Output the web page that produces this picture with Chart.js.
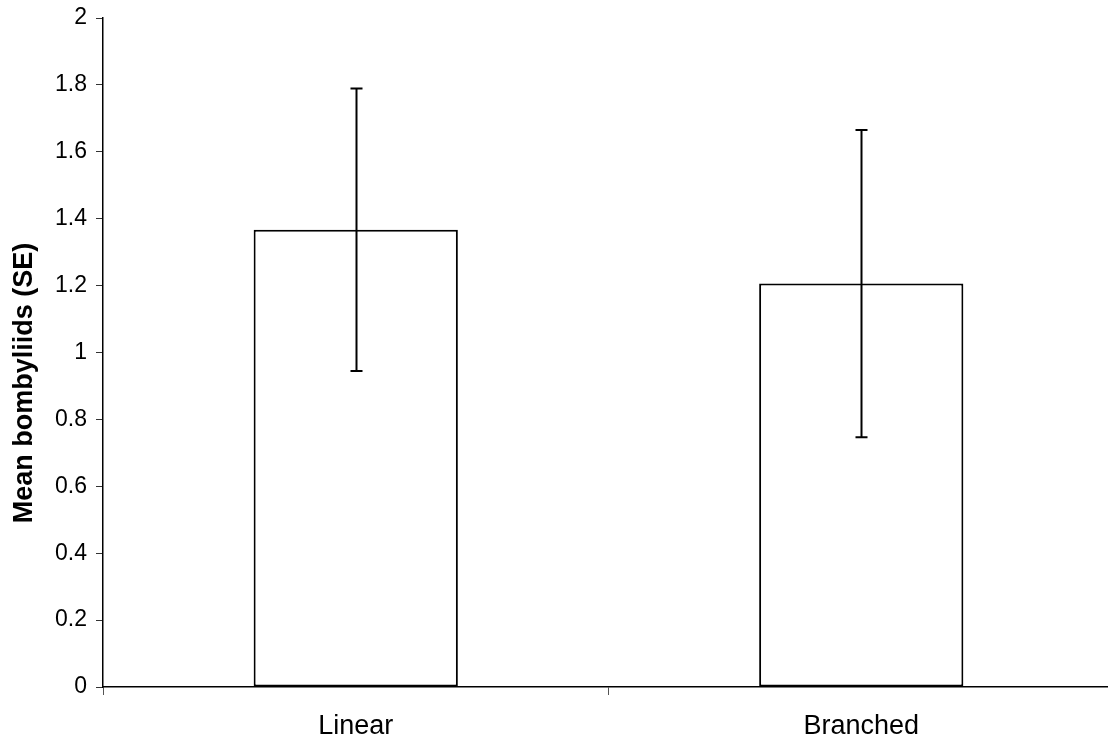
<!DOCTYPE html>
<html>
<head>
<meta charset="utf-8">
<script src="https://cdn.jsdelivr.net/npm/chart.js@4"></script>
<style>
    html, body { margin: 0; padding: 0; background: #fff; overflow: hidden; }
    #wrap { width: 1114px; height: 741px; }
</style>
</head>
<body>
<div id="wrap"><canvas id="chart" width="1114" height="741"></canvas></div>
<script>
// Data
const categories = ['Linear', 'Branched'];
const meanValues = [1.367, 1.206];
const seValues = [0.422, 0.459];
const yTicks = [0, 0.2, 0.4, 0.6, 0.8, 1, 1.2, 1.4, 1.6, 1.8, 2];
const yTitle = 'Mean bombyliids (SE)';

const FONT = 'Liberation Sans, Arial, sans-serif';

// Draws the SE whiskers from the data through the y scale
const errorBars = {
    id: 'errorBars',
    afterDatasetsDraw(chart) {
        const ctx = chart.ctx;
        const yScale = chart.scales.y;
        const meta = chart.getDatasetMeta(0);
        ctx.save();
        ctx.strokeStyle = '#000';
        ctx.lineWidth = 2;
        meta.data.forEach((bar, i) => {
            const x = Math.round(bar.x) + 0.5;
            const hi = yScale.getPixelForValue(meanValues[i] + seValues[i]);
            const lo = yScale.getPixelForValue(meanValues[i] - seValues[i]);
            ctx.beginPath();
            ctx.moveTo(x, hi);
            ctx.lineTo(x, lo);
            ctx.moveTo(x - 6, hi);
            ctx.lineTo(x + 6, hi);
            ctx.moveTo(x - 6, lo);
            ctx.lineTo(x + 6, lo);
            ctx.stroke();
        });
        ctx.restore();
    }
};

// y axis title, placed a bit below the axis middle like the original
const yTitlePlugin = {
    id: 'yTitle',
    afterDraw(chart) {
        const ctx = chart.ctx;
        ctx.save();
        ctx.translate(25, 383);
        ctx.rotate(-Math.PI / 2);
        ctx.font = 'bold 27px ' + FONT;
        ctx.fillStyle = '#000';
        ctx.textAlign = 'center';
        ctx.textBaseline = 'middle';
        ctx.fillText(yTitle, 0, 0);
        ctx.restore();
    }
};

new Chart(document.getElementById('chart').getContext('2d'), {
    type: 'bar',
    data: {
        labels: categories,
        datasets: [{
            data: meanValues,
            backgroundColor: '#ffffff',
            borderColor: '#000000',
            borderWidth: 2,
            borderSkipped: false,
            barPercentage: 0.404,
            categoryPercentage: 1
        }]
    },
    options: {
        responsive: false,
        animation: false,
        layout: { padding: { top: 18, right: 0, bottom: 0, left: 0 } },
        plugins: {
            legend: { display: false },
            tooltip: { enabled: false }
        },
        scales: {
            x: {
                grid: {
                    offset: true,
                    drawOnChartArea: false,
                    drawTicks: true,
                    tickLength: 8,
                    color: '#555'
                },
                border: { color: '#000', width: 1.5 },
                ticks: {
                    color: '#000',
                    padding: 15,
                    font: { family: FONT, size: 27 }
                },
                afterFit(scale) { scale.height = 54; }
            },
            y: {
                min: 0,
                max: 2,
                afterBuildTicks(scale) {
                    scale.ticks = yTicks.map(v => ({ value: v }));
                },
                grid: {
                    drawOnChartArea: false,
                    drawTicks: true,
                    tickLength: 7,
                    color: '#333'
                },
                border: { color: '#000', width: 1.5 },
                ticks: {
                    color: '#000',
                    padding: 9,
                    font: { family: FONT, size: 23 },
                    callback: (value) => String(value)
                },
                afterFit(scale) {
                    scale.width = 103;
                    scale.paddingTop = 0;
                    scale.paddingBottom = 0;
                }
            }
        }
    },
    plugins: [errorBars, yTitlePlugin]
});
</script>
</body>
</html>
